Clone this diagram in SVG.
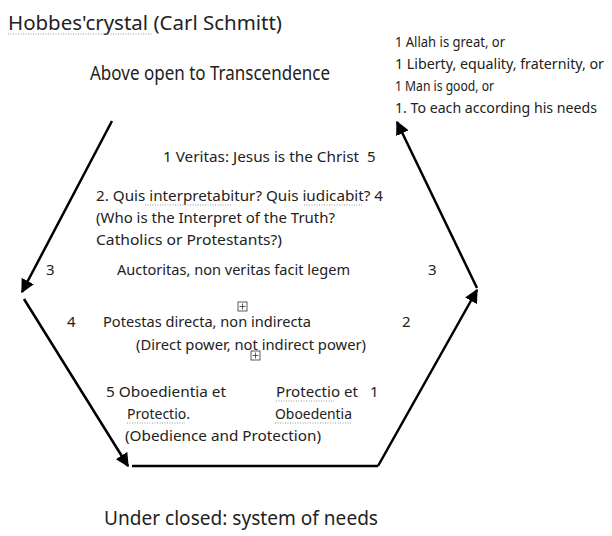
<svg xmlns="http://www.w3.org/2000/svg" width="612" height="536" viewBox="0 0 612 536">
<style>
text{font-family:"Noto Sans","Liberation Sans",sans-serif;fill:#222;}
.t{font-size:15px;}
.r{font-size:14px;}
.big{font-size:20px;}
.edge{stroke:#000;stroke-width:2.5;fill:none;}
.sq{stroke:#999;stroke-width:1;stroke-dasharray:1 1.5;fill:none;}
.bx{stroke:#333;stroke-width:0.8;fill:#fff;}
</style>
<defs>
<marker id="ah" viewBox="0 0 10 10" refX="9" refY="5" markerWidth="5.5" markerHeight="5.5" orient="auto" markerUnits="strokeWidth">
<path d="M0,0 L10,5 L0,10 z" fill="#000"/>
</marker>
</defs>
<rect width="612" height="536" fill="#fff"/>

<g id="title">
<text class="big" x="8" y="30" font-size="22" textLength="274" lengthAdjust="spacingAndGlyphs">Hobbes'crystal (Carl Schmitt)</text>
<line class="sq" x1="8" y1="34" x2="152" y2="34"/>
</g>

<g id="above">
<text class="big" x="90" y="80" textLength="240" lengthAdjust="spacingAndGlyphs">Above open to Transcendence</text>
</g>

<g id="alternatives">
<text class="r" x="395" y="47" textLength="110" lengthAdjust="spacingAndGlyphs">1 Allah is great, or</text>
<text class="r" x="395" y="69" textLength="209" lengthAdjust="spacingAndGlyphs">1 Liberty, equality, fraternity, or</text>
<text class="r" x="395" y="91" textLength="99" lengthAdjust="spacingAndGlyphs">1 Man is good, or</text>
<text class="r" x="395" y="113" textLength="202" lengthAdjust="spacingAndGlyphs">1. To each according his needs</text>
</g>

<g id="veritas">
<text class="t" x="163" y="162" textLength="196" lengthAdjust="spacingAndGlyphs">1 Veritas: Jesus is the Christ</text>
<text class="t" x="367" y="162">5</text>
</g>

<g id="quis">
<text class="t" x="96" y="201" textLength="287" lengthAdjust="spacingAndGlyphs">2. Quis interpretabitur? Quis iudicabit? 4</text>
<line class="sq" x1="145" y1="205" x2="232" y2="205"/>
<line class="sq" x1="304" y1="205" x2="362" y2="205"/>
<text class="t" x="96" y="223" textLength="239" lengthAdjust="spacingAndGlyphs">(Who is the Interpret of the Truth?</text>
<text class="t" x="96" y="245" textLength="186" lengthAdjust="spacingAndGlyphs">Catholics or Protestants?)</text>
</g>

<g id="auctoritas">
<text class="t" x="46" y="275">3</text>
<text class="t" x="117" y="275" textLength="233" lengthAdjust="spacingAndGlyphs">Auctoritas, non veritas facit legem</text>
<text class="t" x="428" y="275">3</text>
</g>

<g id="potestas">
<rect class="bx" x="238" y="302" width="9" height="9"/>
<path d="M242.5,303.5v6M239.5,306.5h6" stroke="#333" stroke-width="0.8"/>
<text class="t" x="67" y="327">4</text>
<text class="t" x="103" y="327" textLength="208" lengthAdjust="spacingAndGlyphs">Potestas directa, non indirecta</text>
<text class="t" x="402" y="327">2</text>
<text class="t" x="136" y="350" textLength="230" lengthAdjust="spacingAndGlyphs">(Direct power, not indirect power)</text>
<rect class="bx" x="251" y="351" width="9" height="9"/>
<path d="M255.5,352.5v6M252.5,355.5h6" stroke="#333" stroke-width="0.8"/>
</g>

<g id="oboedientia">
<text class="t" x="106" y="397" textLength="120" lengthAdjust="spacingAndGlyphs">5 Oboedientia et</text>
<text class="t" x="276" y="397" textLength="82" lengthAdjust="spacingAndGlyphs">Protectio et</text>
<text class="t" x="370" y="397">1</text>
<line class="sq" x1="276" y1="401" x2="334" y2="401"/>
<text class="t" x="127" y="419" textLength="63" lengthAdjust="spacingAndGlyphs">Protectio.</text>
<line class="sq" x1="127" y1="423" x2="185" y2="423"/>
<text class="t" x="275" y="419" textLength="77" lengthAdjust="spacingAndGlyphs">Oboedentia</text>
<line class="sq" x1="275" y1="423" x2="352" y2="423"/>
<text class="t" x="125" y="441" textLength="196" lengthAdjust="spacingAndGlyphs">(Obedience and Protection)</text>
</g>

<g id="below">
<text class="big" x="104" y="525" font-size="21" textLength="274" lengthAdjust="spacingAndGlyphs">Under closed: system of needs</text>
</g>

<g id="connectors">
<line class="edge" x1="112" y1="121" x2="22" y2="292" marker-end="url(#ah)"/>
<line class="edge" x1="24" y1="299" x2="128" y2="466" marker-end="url(#ah)"/>
<line class="edge" x1="132" y1="466" x2="378" y2="466" stroke-width="3.5"/>
<line class="edge" x1="378" y1="466" x2="477" y2="290" marker-end="url(#ah)"/>
<line class="edge" x1="477" y1="288" x2="397" y2="122" marker-end="url(#ah)"/>
</g>
</svg>
